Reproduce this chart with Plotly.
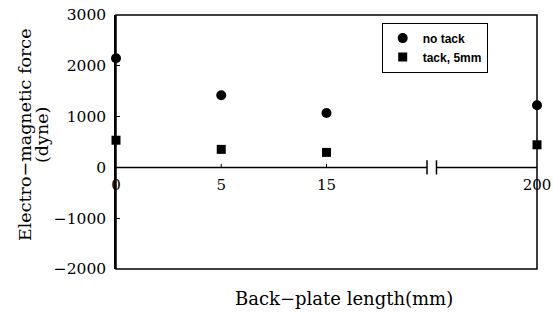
import plotly.graph_objects as go

# Data
x_labels = ["0", "5", "15", "200"]
x_pos = [0, 1, 2, 4]          # category positions (axis break between 15 and 200)
no_tack = [2150, 1420, 1070, 1225]
tack_5mm = [535, 355, 295, 445]
y_ticks = [3000, 2000, 1000, 0, -1000, -2000]
BREAK_AT = 3

SERIF = "DejaVu Serif"

fig = go.Figure()
fig.add_trace(go.Scatter(
    x=x_pos, y=no_tack, mode="markers", name="no tack",
    marker=dict(symbol="circle", size=10, color="black"), cliponaxis=False))
fig.add_trace(go.Scatter(
    x=x_pos, y=tack_5mm, mode="markers", name="tack, 5mm",
    marker=dict(symbol="square", size=9, color="black"), cliponaxis=False))

# zero line with axis break
gap = 0.045
seg_style = dict(color="black", width=1.5)
fig.add_shape(type="line", xref="x", yref="y", x0=min(x_pos), x1=BREAK_AT - gap, y0=0, y1=0, line=seg_style)
fig.add_shape(type="line", xref="x", yref="y", x0=BREAK_AT + gap, x1=max(x_pos), y0=0, y1=0, line=seg_style)
for bx in (BREAK_AT - gap, BREAK_AT + gap):
    fig.add_shape(type="line", xref="x", yref="y", x0=bx, x1=bx, y0=-140, y1=140, line=seg_style)
# small tick marks on the zero line
for xv in x_pos[1:3]:
    fig.add_shape(type="line", xref="x", yref="y", x0=xv, x1=xv, y0=0, y1=70, line=dict(color="black", width=1))

# frame
fig.add_shape(type="rect", xref="paper", yref="paper", x0=0, x1=1, y0=0, y1=1,
              line=dict(color="black", width=1.5))

fig.update_layout(
    width=553, height=313,
    margin=dict(l=116, r=16, t=15, b=44, autoexpand=False),
    paper_bgcolor="white", plot_bgcolor="white",
    showlegend=True,
    legend=dict(x=0.757, xanchor="center", y=0.97, yanchor="top",
                bgcolor="white", bordercolor="black", borderwidth=1,
                font=dict(family="Liberation Sans", size=12, color="black", weight="bold"),
                itemwidth=30, tracegroupgap=0),
    xaxis=dict(range=[0, 4], tickvals=x_pos, ticktext=x_labels,
               anchor="free", position=0.4, showline=False, showgrid=False, zeroline=False,
               ticks="", ticklabelstandoff=7, ticklabeloverflow="allow",
               tickfont=dict(family=SERIF, size=15, color="black")),
    yaxis=dict(range=[-2000, 3000], tickvals=y_ticks,
               showline=True, linecolor="black", linewidth=1.5, showgrid=False, zeroline=False,
               ticks="inside", ticklen=4, tickcolor="black", ticklabelstandoff=5,
               ticklabeloverflow="allow",
               tickfont=dict(family=SERIF, size=15.5, color="black")),
)

plot_w = 553 - 116 - 16
plot_h = 313 - 15 - 44

def px_x(px):
    return (px - 116) / plot_w

def px_y(py):
    return (269 - py) / plot_h

fig.add_annotation(text="Back\u2212plate length(mm)", xref="paper", yref="paper",
                   x=px_x(344), y=px_y(298), showarrow=False, xanchor="center", yanchor="middle",
                   font=dict(family=SERIF, size=18, color="black"))
fig.add_annotation(text="Electro\u2212magnetic force", xref="paper", yref="paper",
                   x=px_x(25), y=px_y(135), showarrow=False, textangle=-90,
                   xanchor="center", yanchor="middle",
                   font=dict(family=SERIF, size=17.5, color="black"))
fig.add_annotation(text="(dyne)", xref="paper", yref="paper",
                   x=px_x(42), y=px_y(135), showarrow=False, textangle=-90,
                   xanchor="center", yanchor="middle",
                   font=dict(family=SERIF, size=17.5, color="black"))

fig.write_html("out.html", config={"displayModeBar": False},
               post_script="document.body.style.margin='0';")
